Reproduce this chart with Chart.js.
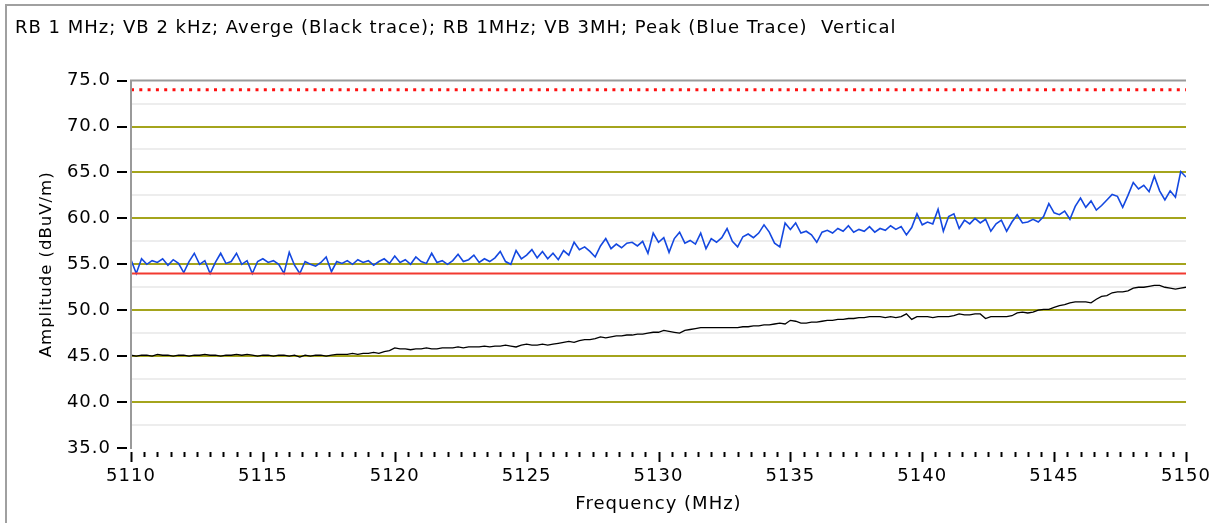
<!DOCTYPE html>
<html>
<head>
<meta charset="utf-8">
<style>
  html, body { margin: 0; padding: 0; background: #ffffff; }
  #wrap { position: relative; width: 1209px; height: 523px; }
  canvas { display: block; }
</style>
<script src="https://cdn.jsdelivr.net/npm/chart.js@4.4.1/dist/chart.umd.min.js"></script>
</head>
<body>
<div id="wrap"><canvas id="c" width="1209" height="523"></canvas></div>
<script>
// Sweep: 5110 – 5150 MHz, one sample every 0.2 MHz
const freqStart = 5110;
const freqStep = 0.2;

// Peak detector trace (blue), dBuV/m
const peakTrace = [
  55.5, 54.0, 55.6, 55.0, 55.4,  55.2, 55.6, 54.9, 55.5, 55.1,
  54.1, 55.3, 56.2, 55.0, 55.4,  54.0, 55.2, 56.2, 55.1, 55.3,
  56.2, 55.0, 55.4, 54.0, 55.3,  55.6, 55.2, 55.4, 55.0, 54.0,
  56.3, 54.9, 54.0, 55.3, 55.0,  54.8, 55.2, 55.8, 54.2, 55.3,
  55.1, 55.4, 55.0, 55.5, 55.2,  55.4, 54.9, 55.3, 55.6, 55.1,
  55.9, 55.2, 55.5, 55.0, 55.8,  55.3, 55.1, 56.2, 55.2, 55.4,
  55.0, 55.4, 56.1, 55.3, 55.5,  56.0, 55.2, 55.6, 55.3, 55.7,
  56.4, 55.3, 55.0, 56.5, 55.6,  56.0, 56.6, 55.7, 56.4, 55.6,
  56.2, 55.5, 56.5, 56.0, 57.4,  56.6, 56.9, 56.4, 55.8, 57.0,
  57.8, 56.7, 57.2, 56.8, 57.3,  57.4, 57.0, 57.5, 56.2, 58.4,
  57.4, 57.9, 56.3, 57.8, 58.5,  57.3, 57.6, 57.2, 58.4, 56.7,
  57.8, 57.4, 57.9, 58.9, 57.5,  56.9, 58.0, 58.3, 57.9, 58.4,
  59.3, 58.5, 57.3, 56.9, 59.5,  58.8, 59.5, 58.4, 58.6, 58.2,
  57.4, 58.5, 58.7, 58.4, 58.9,  58.6, 59.2, 58.5, 58.8, 58.6,
  59.1, 58.5, 58.9, 58.7, 59.2,  58.8, 59.1, 58.2, 59.0, 60.5,
  59.3, 59.6, 59.4, 61.0, 58.6,  60.2, 60.5, 58.9, 59.8, 59.4,
  60.0, 59.5, 59.9, 58.6, 59.4,  59.8, 58.6, 59.6, 60.4, 59.5,
  59.6, 59.9, 59.6, 60.2, 61.6,  60.6, 60.4, 60.8, 59.9, 61.3,
  62.2, 61.2, 61.9, 60.9, 61.4,  62.0, 62.6, 62.4, 61.2, 62.5,
  63.9, 63.2, 63.6, 62.9, 64.6,  63.0, 62.0, 63.0, 62.3, 65.1,
  64.5
];

// Average detector trace (black), dBuV/m
const averageTrace = [
  45.1, 45.0, 45.1, 45.1, 45.0,  45.2, 45.1, 45.1, 45.0, 45.1,
  45.1, 45.0, 45.1, 45.1, 45.2,  45.1, 45.1, 45.0, 45.1, 45.1,
  45.2, 45.1, 45.2, 45.1, 45.0,  45.1, 45.1, 45.0, 45.1, 45.1,
  45.0, 45.1, 44.9, 45.1, 45.0,  45.1, 45.1, 45.0, 45.1, 45.2,
  45.2, 45.2, 45.3, 45.2, 45.3,  45.3, 45.4, 45.3, 45.5, 45.6,
  45.9, 45.8, 45.8, 45.7, 45.8,  45.8, 45.9, 45.8, 45.8, 45.9,
  45.9, 45.9, 46.0, 45.9, 46.0,  46.0, 46.0, 46.1, 46.0, 46.1,
  46.1, 46.2, 46.1, 46.0, 46.2,  46.3, 46.2, 46.2, 46.3, 46.2,
  46.3, 46.4, 46.5, 46.6, 46.5,  46.7, 46.8, 46.8, 46.9, 47.1,
  47.0, 47.1, 47.2, 47.2, 47.3,  47.3, 47.4, 47.4, 47.5, 47.6,
  47.6, 47.8, 47.7, 47.6, 47.5,  47.8, 47.9, 48.0, 48.1, 48.1,
  48.1, 48.1, 48.1, 48.1, 48.1,  48.1, 48.2, 48.2, 48.3, 48.3,
  48.4, 48.4, 48.5, 48.6, 48.5,  48.9, 48.8, 48.6, 48.6, 48.7,
  48.7, 48.8, 48.9, 48.9, 49.0,  49.0, 49.1, 49.1, 49.2, 49.2,
  49.3, 49.3, 49.3, 49.2, 49.3,  49.2, 49.3, 49.6, 49.0, 49.3,
  49.3, 49.3, 49.2, 49.3, 49.3,  49.3, 49.4, 49.6, 49.5, 49.5,
  49.6, 49.6, 49.1, 49.3, 49.3,  49.3, 49.3, 49.4, 49.7, 49.8,
  49.7, 49.8, 50.0, 50.1, 50.1,  50.3, 50.5, 50.6, 50.8, 50.9,
  50.9, 50.9, 50.8, 51.2, 51.5,  51.6, 51.9, 52.0, 52.0, 52.1,
  52.4, 52.5, 52.5, 52.6, 52.7,  52.7, 52.5, 52.4, 52.3, 52.4,
  52.5
];

// Limit lines, dBuV/m
const peakLimit = 74;
const averageLimit = 54;

// Axis ranges and tick spacing
const xMin = 5110, xMax = 5150, xMajorStep = 5, xMinorStep = 0.5;
const yMin = 35, yMax = 75, yMajorStep = 5, yMinorStep = 2.5;

const titleText = 'RB 1 MHz; VB 2 kHz; Averge (Black trace); RB 1MHz; VB 3MH; Peak (Blue Trace)  Vertical';
const xTitle = 'Frequency (MHz)';
const yTitle = 'Amplitude (dBuV/m)';

const FONT = '"DejaVu Sans", Verdana, sans-serif';
const OLIVE = '#a4a41c';

const toPoints = arr => arr.map((v, i) => ({ x: +(freqStart + i * freqStep).toFixed(1), y: v }));
const limitPoints = v => [{ x: xMin, y: v }, { x: xMax, y: v }];

// Slightly open letter spacing for all canvas text
const spacing = {
  id: 'spacing',
  beforeUpdate(chart) { chart.ctx.letterSpacing = '1px'; },
  beforeDraw(chart) { chart.ctx.letterSpacing = '1px'; }
};

// Minor grid, tick marks, plot frame and outer panel frame
const decorations = {
  id: 'decorations',
  beforeDatasetsDraw(chart) {
    const { ctx, chartArea: a, scales: { y } } = chart;
    ctx.save();
    ctx.strokeStyle = '#ededed';
    ctx.lineWidth = 2;
    for (let v = yMin + yMinorStep; v < yMax; v += yMajorStep) {
      const py = Math.round(y.getPixelForValue(v));
      ctx.beginPath(); ctx.moveTo(a.left, py); ctx.lineTo(a.right, py); ctx.stroke();
    }
    ctx.restore();
  },
  afterDraw(chart) {
    const { ctx, chartArea: a, scales: { x, y } } = chart;
    ctx.save();
    // plot frame: left and top edges
    ctx.strokeStyle = '#9a9a9a';
    ctx.lineWidth = 2;
    ctx.beginPath();
    ctx.moveTo(a.left, a.bottom + 1);
    ctx.lineTo(a.left, a.top);
    ctx.lineTo(a.right, a.top);
    ctx.stroke();
    // y tick marks
    ctx.strokeStyle = '#000';
    ctx.lineWidth = 2;
    for (let v = yMin; v <= yMax; v += yMajorStep) {
      const py = Math.round(y.getPixelForValue(v));
      ctx.beginPath(); ctx.moveTo(a.left - 14, py); ctx.lineTo(a.left - 4, py); ctx.stroke();
    }
    // x tick marks, major and minor
    const n = Math.round((xMax - xMin) / xMinorStep);
    const every = Math.round(xMajorStep / xMinorStep);
    for (let i = 0; i <= n; i++) {
      const v = xMin + i * xMinorStep;
      const px = Math.round(x.getPixelForValue(v)) + 0.5;
      const major = i % every === 0;
      ctx.beginPath();
      ctx.moveTo(px, a.bottom + 4);
      ctx.lineTo(px, a.bottom + (major ? 14 : 9));
      ctx.stroke();
    }
    // outer panel frame
    ctx.strokeStyle = '#a0a0a0';
    ctx.lineWidth = 2;
    ctx.beginPath();
    ctx.moveTo(6, chart.height);
    ctx.lineTo(6, 5);
    ctx.lineTo(chart.width, 5);
    ctx.stroke();
    ctx.restore();
  }
};

new Chart(document.getElementById('c'), {
  type: 'line',
  data: {
    datasets: [
      {
        label: 'Peak limit',
        data: limitPoints(peakLimit),
        borderColor: '#ff1010',
        borderWidth: 3,
        borderDash: [3, 5.3],
        pointRadius: 0
      },
      {
        label: 'Average limit',
        data: limitPoints(averageLimit),
        borderColor: '#f23a30',
        borderWidth: 2,
        pointRadius: 0
      },
      {
        label: 'Average',
        data: toPoints(averageTrace),
        borderColor: '#000000',
        borderWidth: 1.3,
        pointRadius: 0,
        tension: 0
      },
      {
        label: 'Peak',
        data: toPoints(peakTrace),
        borderColor: '#1448e0',
        borderWidth: 1.6,
        pointRadius: 0,
        tension: 0
      }
    ]
  },
  options: {
    responsive: false,
    animation: false,
    events: [],
    layout: { padding: { left: 15, right: 23, top: 0, bottom: 0 } },
    plugins: {
      legend: { display: false },
      tooltip: { enabled: false },
      title: {
        display: true,
        text: titleText,
        align: 'start',
        color: '#000',
        font: { family: FONT, size: 18, weight: 'normal' },
        padding: { top: 18, bottom: 41 }
      }
    },
    scales: {
      x: {
        type: 'linear',
        min: xMin,
        max: xMax,
        afterFit(s) { s.height = 75; s.paddingLeft = 0; s.paddingRight = 0; },
        ticks: {
          stepSize: xMajorStep,
          color: '#000',
          padding: 18,
          maxRotation: 0,
          font: { family: FONT, size: 18 },
          callback: v => String(v)
        },
        grid: { display: false, drawTicks: false },
        border: { display: false },
        title: {
          display: true,
          text: xTitle,
          color: '#000',
          font: { family: FONT, size: 18 },
          padding: { top: 0, bottom: 8 }
        }
      },
      y: {
        type: 'linear',
        min: yMin,
        max: yMax,
        afterFit(s) { s.width = 116; s.paddingTop = 0; s.paddingBottom = 0; },
        ticks: {
          stepSize: yMajorStep,
          color: '#000',
          padding: 20,
          font: { family: FONT, size: 18 },
          callback: v => Number(v).toFixed(1)
        },
        grid: {
          drawTicks: false,
          lineWidth: 2,
          color: ctx => (ctx.tick && (ctx.tick.value === yMin || ctx.tick.value === yMax)) ? 'rgba(0,0,0,0)' : OLIVE
        },
        border: { display: false },
        title: {
          display: true,
          text: yTitle,
          color: '#000',
          font: { family: FONT, size: 16.5 },
          padding: { top: 22, bottom: 0 }
        }
      }
    }
  },
  plugins: [spacing, decorations]
});
</script>
</body>
</html>
